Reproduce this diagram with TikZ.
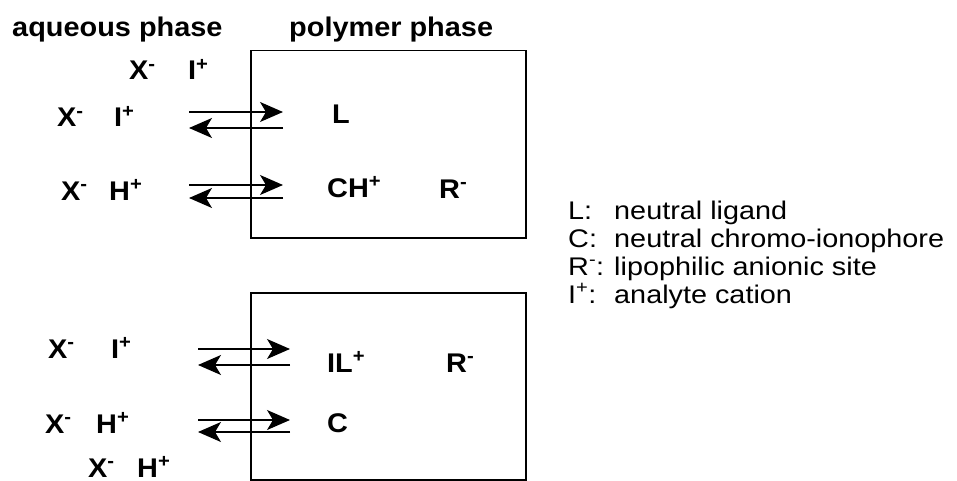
\documentclass[tikz,border=0pt]{standalone}
\usepackage{fontspec}
\setmainfont{Liberation Sans}[FakeStretch=1.07]
\newfontfamily\lgfont{Liberation Sans}[FakeStretch=1.13]
\usetikzlibrary{arrows.meta}
\begin{document}
\begin{tikzpicture}[x=1pt,y=-1pt,
 bt/.style={font=\fontsize{27}{32}\selectfont\bfseries, anchor=base west, inner sep=0pt},
 lg/.style={font=\lgfont\fontsize{25.5}{30}\selectfont, anchor=base west, inner sep=0pt},
 box/.style={draw, line width=1.5pt, anchor=north west, inner sep=0pt, minimum width=275pt, minimum height=187pt},
 arr/.style={line width=1.5pt, -{Stealth[length=23pt,width=20pt,inset=6pt]}}]
\useasboundingbox (0,0) rectangle (957,481);
% titles
\node[bt] (taq) at (12,37) {aqueous phase};
\node[bt] (tpo) at (289,37) {polymer phase};
% boxes
\node[box] (b1) at (250,50) {};
\node[box] (b2) at (250,292) {};
% aqueous species
\node[bt] (x0) at (129,80) {X\textsuperscript{-}};
\node[bt] (i0) at (188,80) {I\textsuperscript{+}};
\node[bt] (x1) at (57,127) {X\textsuperscript{-}};
\node[bt] (i1) at (114,127) {I\textsuperscript{+}};
\node[bt] (x2) at (61,200) {X\textsuperscript{-}};
\node[bt] (h2) at (109,200) {H\textsuperscript{+}};
\node[bt] (x3) at (48,358) {X\textsuperscript{-}};
\node[bt] (i3) at (111,358) {I\textsuperscript{+}};
\node[bt] (x4) at (45,433) {X\textsuperscript{-}};
\node[bt] (h4) at (96,433) {H\textsuperscript{+}};
\node[bt] (x5) at (88,477) {X\textsuperscript{-}};
\node[bt] (h5) at (137,477) {H\textsuperscript{+}};
% polymer species
\node[bt] (L) at (332,124) {L};
\node[bt] (CH) at (327,197) {CH\textsuperscript{+}};
\node[bt] (R1) at (439,198) {R\textsuperscript{-}};
\node[bt] (IL) at (327,372) {IL\textsuperscript{+}};
\node[bt] (R2) at (446,372) {R\textsuperscript{-}};
\node[bt] (C) at (327,432) {C};
% arrow ends
\coordinate (a1s) at (189,112); \coordinate (a1e) at (283,112);
\coordinate (b1s) at (283,128); \coordinate (b1e) at (189,128);
\coordinate (a2s) at (189,185); \coordinate (a2e) at (283,185);
\coordinate (b2s) at (283,198); \coordinate (b2e) at (189,198);
\coordinate (a3s) at (198,349); \coordinate (a3e) at (290,349);
\coordinate (b3s) at (290,365); \coordinate (b3e) at (198,365);
\coordinate (a4s) at (198,420); \coordinate (a4e) at (290,420);
\coordinate (b4s) at (290,432); \coordinate (b4e) at (198,432);
\draw[arr] (a1s) -- (a1e); \draw[arr] (b1s) -- (b1e);
\draw[arr] (a2s) -- (a2e); \draw[arr] (b2s) -- (b2e);
\draw[arr] (a3s) -- (a3e); \draw[arr] (b3s) -- (b3e);
\draw[arr] (a4s) -- (a4e); \draw[arr] (b4s) -- (b4e);
% legend
\node[lg] (k1) at (568,219) {L:};
\node[lg] (d1) at (614,219) {neutral ligand};
\node[lg] (k2) at (568,247) {C:};
\node[lg] (d2) at (614,247) {neutral chromo-ionophore};
\node[lg] (k3) at (568,275) {R\textsuperscript{-}:};
\node[lg] (d3) at (614,275) {lipophilic anionic site};
\node[lg] (k4) at (568,303) {I\textsuperscript{+}:};
\node[lg] (d4) at (614,303) {analyte cation};
\end{tikzpicture}
\end{document}
